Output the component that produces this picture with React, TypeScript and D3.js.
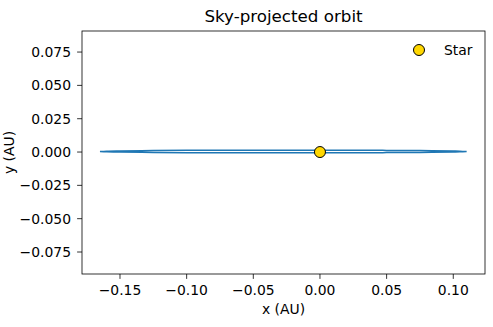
import React from "react";
import * as d3 from "d3";

const orbitX = [-0.165, -0.16, -0.15, -0.125, -0.1, -0.075, -0.05, -0.025, 0, 0.025, 0.05, 0.075, 0.1, 0.105, 0.11];
const orbitUpperY = [0.0004, 0.00067, 0.00085, 0.0011, 0.00125, 0.00134, 0.00139, 0.0014, 0.00138, 0.00132, 0.00123, 0.00107, 0.00077, 0.00067, 0.0004];
const orbitLowerY = [0.0004, 0.00013, -0.00005, -0.0003, -0.00045, -0.00054, -0.00059, -0.0006, -0.00058, -0.00052, -0.00043, -0.00027, 0.00003, 0.00013, 0.0004];
const starX = [0];
const starY = [0];
const xTicks = [-0.15, -0.1, -0.05, 0, 0.05, 0.1];
const yTicks = [-0.075, -0.05, -0.025, 0, 0.025, 0.05, 0.075];
const xDomain = [-0.1785, 0.1238];
const yDomain = [-0.0915, 0.0908];

const W = 493, H = 327;
const L = 82, R = 485, T = 31, B = 274;
const FONT = "DejaVu Sans, sans-serif";
const fmt = (v: number, d: number) => (v < 0 ? "\u2212" : "") + Math.abs(v).toFixed(d);

export default function App() {
  const x = d3.scaleLinear().domain(xDomain).range([L, R]);
  const y = d3.scaleLinear().domain(yDomain).range([B, T]);
  const pts: [number, number][] = [
    ...orbitX.map((v, i) => [v, orbitUpperY[i]] as [number, number]),
    ...orbitX.map((v, i) => [v, orbitLowerY[i]] as [number, number]).reverse(),
  ];
  const line = d3.line<[number, number]>().x(d => x(d[0])).y(d => y(d[1])).curve(d3.curveCatmullRomClosed);
  return (
    <svg width={W} height={H} style={{ position: "absolute", left: 0, top: 0 }}>
      <rect width={W} height={H} fill="white" />
      <path d={line(pts) || ""} fill="none" stroke="#1f77b4" strokeWidth={1.5} />
      {starX.map((v, i) => (
        <circle key={i} cx={x(v)} cy={y(starY[i])} r={5.5} fill="#ffd700" stroke="black" strokeWidth={1} />
      ))}
      <rect x={L} y={T} width={R - L} height={B - T} fill="none" stroke="black" strokeWidth={0.8} />
      {xTicks.map(t => (
        <g key={t}>
          <line x1={x(t)} x2={x(t)} y1={B} y2={B + 4.9} stroke="black" strokeWidth={0.8} />
          <text x={x(t)} y={295} textAnchor="middle" fontFamily={FONT} fontSize={13.9}>{fmt(t, 2)}</text>
        </g>
      ))}
      {yTicks.map(t => (
        <g key={t}>
          <line x1={L - 4.9} x2={L} y1={y(t)} y2={y(t)} stroke="black" strokeWidth={0.8} />
          <text x={71} y={y(t)} dy="0.36em" textAnchor="end" fontFamily={FONT} fontSize={13.9}>{fmt(t, 3)}</text>
        </g>
      ))}
      <text x={(L + R) / 2} y={314} textAnchor="middle" fontFamily={FONT} fontSize={13.9}>x (AU)</text>
      <text transform={`translate(14,${(T + B) / 2}) rotate(-90)`} textAnchor="middle" fontFamily={FONT} fontSize={13.9}>y (AU)</text>
      <text x={(L + R) / 2} y={22} textAnchor="middle" fontFamily={FONT} fontSize={16.7}>Sky-projected orbit</text>
      <circle cx={419} cy={50} r={5.5} fill="#ffd700" stroke="black" strokeWidth={1} />
      <text x={444} y={50} dy="0.36em" fontFamily={FONT} fontSize={13.9}>Star</text>
    </svg>
  );
}
